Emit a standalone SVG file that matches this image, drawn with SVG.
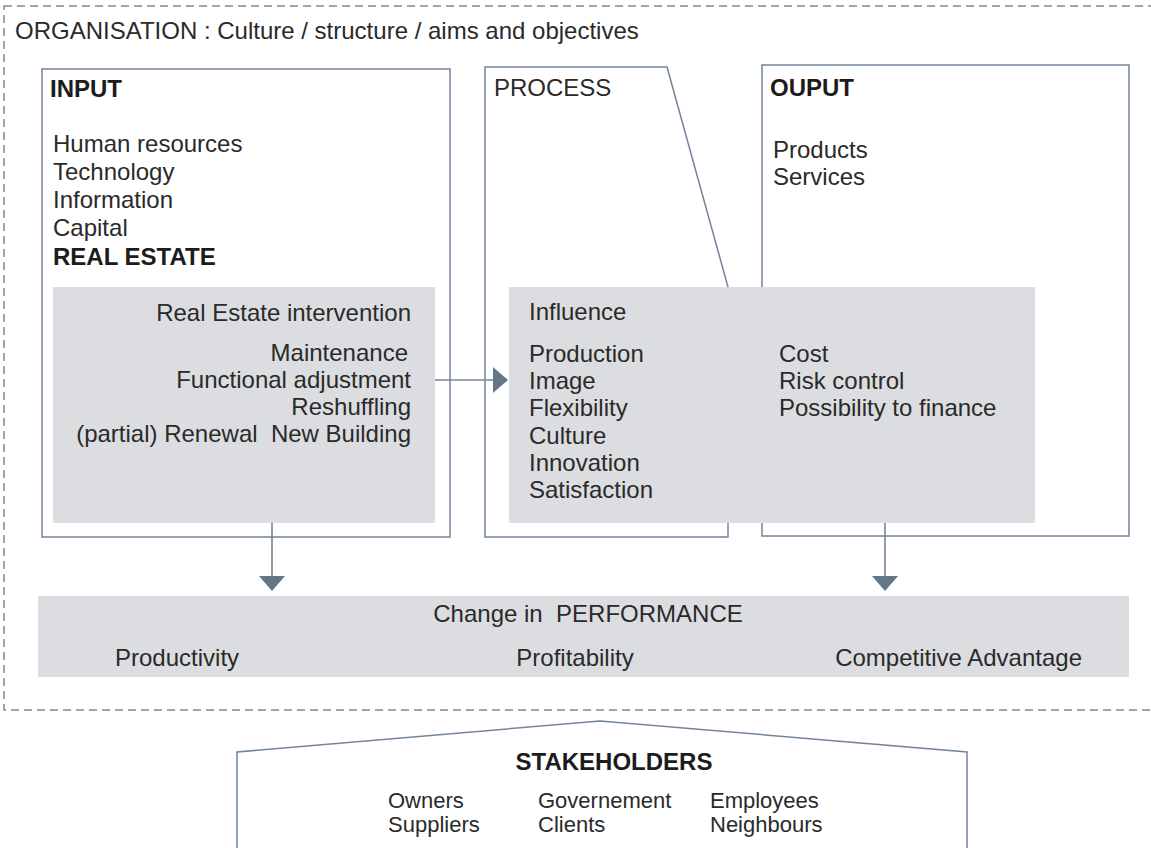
<svg xmlns="http://www.w3.org/2000/svg" width="1151" height="848" viewBox="0 0 1151 848">
<style>
text{font-family:"Liberation Sans",Arial,sans-serif;font-size:24px;fill:#2a2a2a}
.b{font-weight:bold;fill:#1c1c1c}
.s{font-size:22px}
.box{fill:#fff;stroke:#72859a;stroke-width:1.5}
.gray{fill:#dcdde0;stroke:none}
.dash{fill:none;stroke:#7a8a99;stroke-width:1.5;stroke-dasharray:8 5}
.conn{fill:none;stroke:#72859a;stroke-width:1.6}
.head{fill:#637789;stroke:none}
.end{text-anchor:end}
.mid{text-anchor:middle}
</style>
<g id="organisation">
<rect class="dash" x="4" y="6" width="1170" height="704"/>
<text x="15" y="39">ORGANISATION : Culture / structure / aims and objectives</text>
</g>
<g id="input">
<rect class="box" x="42" y="69" width="408" height="468"/>
<text class="b" x="50" y="97">INPUT</text>
<text x="53" y="152">Human resources</text>
<text x="53" y="180">Technology</text>
<text x="53" y="208">Information</text>
<text x="53" y="236">Capital</text>
<text class="b" x="53" y="265">REAL ESTATE</text>
</g>
<g id="process">
<path class="box" d="M485 67 H667 L728 287 V537 H485 Z"/>
<text x="494" y="96">PROCESS</text>
</g>
<g id="output">
<rect class="box" x="762" y="65" width="367" height="471"/>
<text class="b" x="770" y="96">OUPUT</text>
<text x="773" y="158">Products</text>
<text x="773" y="185">Services</text>
</g>
<g id="intervention">
<rect class="gray" x="53" y="287" width="382" height="236"/>
<text class="end" x="411" y="321">Real Estate intervention</text>
<text class="end" x="408" y="361">Maintenance</text>
<text class="end" x="411" y="388">Functional adjustment</text>
<text class="end" x="411" y="415">Reshuffling</text>
<text class="end" x="411" y="442" xml:space="preserve">(partial) Renewal  New Building</text>
</g>
<g id="influence">
<rect class="gray" x="509" y="287" width="526" height="236"/>
<text x="529" y="320">Influence</text>
<text x="529" y="362">Production</text>
<text x="529" y="389">Image</text>
<text x="529" y="416">Flexibility</text>
<text x="529" y="444">Culture</text>
<text x="529" y="471">Innovation</text>
<text x="529" y="498">Satisfaction</text>
<text x="779" y="362">Cost</text>
<text x="779" y="389">Risk control</text>
<text x="779" y="416">Possibility to finance</text>
</g>
<g id="performance">
<rect class="gray" x="38" y="596" width="1091" height="81"/>
<text class="mid" x="588" y="622" xml:space="preserve">Change in  PERFORMANCE</text>
<text x="115" y="666">Productivity</text>
<text class="mid" x="575" y="666">Profitability</text>
<text class="end" x="1082" y="666">Competitive Advantage</text>
</g>
<g id="stakeholders">
<path class="box" d="M237 848 V752 L600 721 L967 752 V848"/>
<text class="b mid" x="614" y="770">STAKEHOLDERS</text>
<text class="s" x="388" y="808">Owners</text>
<text class="s" x="388" y="832">Suppliers</text>
<text class="s" x="538" y="808">Governement</text>
<text class="s" x="538" y="832">Clients</text>
<text class="s" x="710" y="808">Employees</text>
<text class="s" x="710" y="832">Neighbours</text>
</g>
<g id="connectors">
<line class="conn" x1="435" y1="380" x2="494" y2="380"/>
<polygon class="head" points="493,367 508,380 493,393"/>
<line class="conn" x1="272" y1="523" x2="272" y2="577"/>
<polygon class="head" points="259,576 285,576 272,591"/>
<line class="conn" x1="885" y1="523" x2="885" y2="577"/>
<polygon class="head" points="872,576 898,576 885,591"/>
</g>
</svg>
